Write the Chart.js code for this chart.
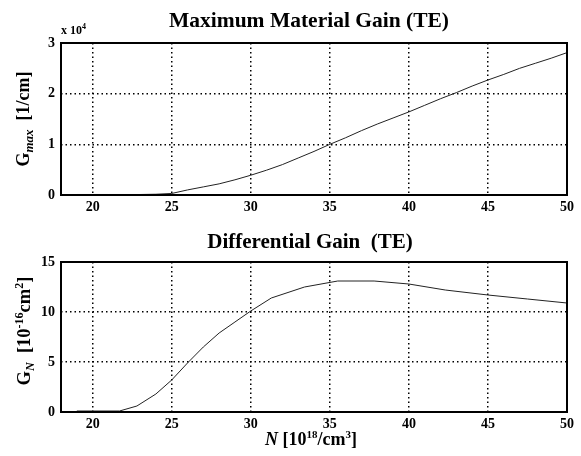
<!DOCTYPE html>
<html lang="en">
<head>
<meta charset="UTF-8">
<title>Maximum Material Gain / Differential Gain (TE)</title>
<script src="https://cdn.jsdelivr.net/npm/chart.js"></script>
<style>
  body { margin: 0; background: #fff; font-family: "Liberation Serif", "DejaVu Serif", serif; font-weight: bold; }
  #wrap { position: relative; width: 581px; height: 456px; }
  canvas { position: absolute; left: 0; }
  .t { position: absolute; white-space: nowrap; color: #000; }
  .rot { transform: translate(-50%, -50%) rotate(-90deg); }
</style>
</head>
<body>
<div id="wrap">
  <canvas id="gmaxChart" width="581" height="225" style="top:0"></canvas>
  <canvas id="gnChart" width="581" height="231" style="top:225px"></canvas>

  <div class="t" style="left:309px; top:20px; transform:translate(-50%,-50%); font-size:21.5px;">Maximum Material Gain (TE)</div>
  <div class="t" style="left:61px; top:22px; font-size:12px;">x 10<sup style="font-size:8px">4</sup></div>
  <div class="t rot" style="left:25px; top:119px; font-size:18px;">G<sub style="font-size:13px"><i>max</i></sub>&nbsp; [1/cm]</div>

  <div class="t" style="left:310px; top:241px; transform:translate(-50%,-50%); font-size:21px;">Differential Gain&nbsp; (TE)</div>
  <div class="t rot" style="left:25px; top:331px; font-size:18.5px;">G<sub style="font-size:12px"><i>N</i></sub>&nbsp; [10<sup style="font-size:12px">-16</sup>cm<sup style="font-size:12px">2</sup>]</div>
  <div class="t" style="left:311px; top:439px; transform:translate(-50%,-50%); font-size:18px;"><i>N</i> [10<sup style="font-size:11px">18</sup>/cm<sup style="font-size:11px">3</sup>]</div>
</div>

<script>
// carrier density N [10^18/cm^3]
const xTicks = [20, 25, 30, 35, 40, 45, 50];

// maximum material gain, in units of 10^4 1/cm
const gmaxN = [19, 20, 21, 22, 23, 24, 25, 26, 27, 28, 29, 30, 31, 32, 33, 34, 35, 36, 37, 38, 39, 40, 41, 42, 43, 44, 45, 46, 47, 48, 49, 50];
const gmaxVals = [0.01, 0.01, 0.01, 0.01, 0.01, 0.015, 0.03, 0.1, 0.16, 0.22, 0.3, 0.39, 0.49, 0.6, 0.73, 0.86, 1.0, 1.13, 1.27, 1.4, 1.52, 1.64, 1.77, 1.9, 2.02, 2.15, 2.27, 2.38, 2.5, 2.6, 2.7, 2.81];
const gmaxTicks = [0, 1, 2, 3];

// differential gain, 10^-16 cm^2
const gnN = [19, 21.7, 22.8, 24, 25, 26, 27, 28, 29, 30, 31.3, 33.4, 35.5, 37.8, 40, 42.3, 45, 47.5, 50];
const gnVals = [0.1, 0.1, 0.6, 1.8, 3.2, 4.9, 6.5, 7.9, 9.0, 10.1, 11.4, 12.5, 13.1, 13.1, 12.8, 12.2, 11.7, 11.3, 10.9];
const gnTicks = [0, 5, 10, 15];

const tickFont = { family: '"Liberation Serif", serif', size: 14, weight: 'bold' };

// box around the plot area
const boxPlugin = {
    id: 'box',
    afterDraw(chart) {
        const a = chart.chartArea, ctx = chart.ctx;
        ctx.save();
        ctx.strokeStyle = '#000';
        ctx.lineWidth = 2;
        ctx.strokeRect(a.left, a.top, a.right - a.left, a.bottom - a.top);
        ctx.restore();
    }
};

function makeChart(id, xs, ys, yMax, yTicks, pad) {
    return new Chart(document.getElementById(id), {
        type: 'line',
        data: {
            datasets: [{
                data: xs.map((x, i) => ({ x: x, y: ys[i] })),
                borderColor: '#222',
                borderWidth: 1,
                pointRadius: 0,
                tension: 0,
                fill: false
            }]
        },
        options: {
            responsive: false,
            animation: false,
            layout: { padding: pad },
            plugins: { legend: { display: false }, tooltip: { enabled: false } },
            scales: {
                x: {
                    type: 'linear',
                    min: 18, max: 50,
                    afterBuildTicks: s => { s.ticks = xTicks.map(v => ({ value: v })); },
                    afterFit: s => { s.height = 22; },
                    ticks: { color: '#000', font: tickFont, padding: 4, maxRotation: 0 },
                    grid: { color: '#000', lineWidth: 1.5, drawTicks: false },
                    border: { display: false, dash: [1.5, 3] }
                },
                y: {
                    min: 0, max: yMax,
                    afterBuildTicks: s => { s.ticks = yTicks.map(v => ({ value: v })); },
                    afterFit: s => { s.width = 61; },
                    ticks: { color: '#000', font: tickFont, padding: 6 },
                    grid: { color: '#000', lineWidth: 1.5, drawTicks: false },
                    border: { display: false, dash: [1.5, 3] }
                }
            }
        },
        plugins: [boxPlugin]
    });
}

makeChart('gmaxChart', gmaxN, gmaxVals, 3, gmaxTicks, { left: 0, right: 14, top: 43, bottom: 8 });
makeChart('gnChart', gnN, gnVals, 15, gnTicks, { left: 0, right: 14, top: 37, bottom: 22 });
</script>
</body>
</html>
